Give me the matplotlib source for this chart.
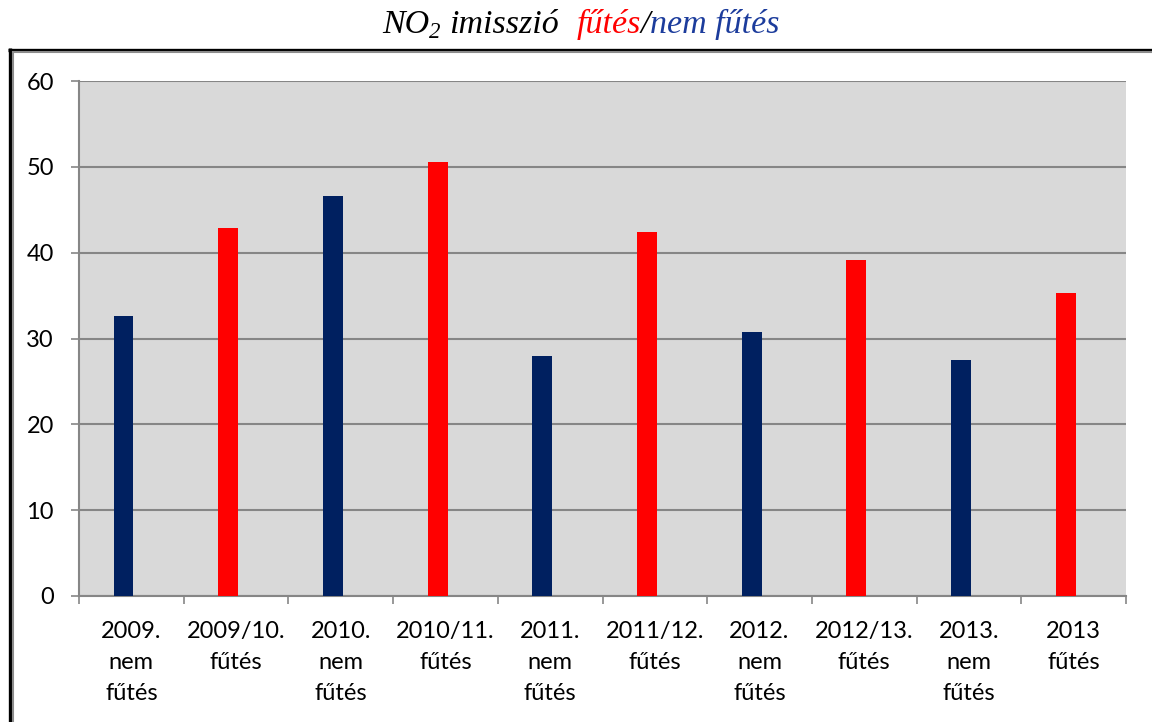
# NO2 emission, heating vs non-heating seasons

import matplotlib.pyplot as plt
from matplotlib.lines import Line2D
import numpy as np

labels = ['2009.\nnem\nfűtés', '2009/10.\nfűtés', '2010.\nnem\nfűtés', '2010/11.\nfűtés',
          '2011.\nnem\nfűtés', '2011/12.\nfűtés', '2012.\nnem\nfűtés', '2012/13.\nfűtés',
          '2013.\nnem\nfűtés', '2013\nfűtés']
values = [32.6, 42.9, 46.6, 50.6, 28.0, 42.4, 30.8, 39.1, 27.5, 35.3]
heating = [False, True, False, True, False, True, False, True, False, True]

RED = '#ff0000'
NAVY = '#002060'
TITLE_BLUE = '#1c3c9c'
GRID = '#868686'

W, H = 1152, 722
fig = plt.figure(figsize=(W / 100, H / 100), dpi=100, facecolor='white')
ax = fig.add_axes([79 / W, 1 - 596 / H, (1126 - 79) / W, (596 - 81) / H])
ax.set_facecolor('#d9d9d9')

x = np.arange(len(values))
colors = [RED if h else NAVY for h in heating]
ax.bar(x - 0.075, values, width=0.19, color=colors, zorder=3)

ax.set_xlim(-0.5, len(values) - 0.5)
ax.set_ylim(0, 60)
ax.set_yticks(range(0, 61, 10))
ax.yaxis.grid(True, color=GRID, linewidth=1.5, zorder=1)
ax.set_axisbelow(True)

for side in ['top', 'right']:
    ax.spines[side].set_visible(False)
for side in ['left', 'bottom']:
    ax.spines[side].set_color(GRID)
    ax.spines[side].set_linewidth(1.5)

tick_font = dict(family='Lato', size=17)
ax.set_xticks(x)
ax.set_xticklabels(labels, fontdict=tick_font, linespacing=1.6)
ax.set_xticks(np.arange(-0.5, len(values)), minor=True)
ax.tick_params(axis='x', which='major', length=0, pad=18)
ax.tick_params(axis='x', which='minor', length=6, width=1.2, color=GRID)
ax.tick_params(axis='y', length=6, width=1.2, color=GRID, pad=12)
for t in ax.get_yticklabels():
    t.set_fontfamily('Lato')
    t.set_fontsize(17)

# chart frame: black border with a grey inner edge
def px_line(xs, ys, color, lw):
    fig.add_artist(Line2D([v / W for v in xs], [1 - v / H for v in ys],
                          color=color, linewidth=lw, transform=fig.transFigure,
                          solid_capstyle='butt'))

px_line([8, W], [49.5, 49.5], 'black', 2.4)
px_line([9.5, 9.5], [48, H], 'black', 2.4)
px_line([12, W], [52, 52], '#8c8c8c', 1.5)
px_line([12.5, 12.5], [51, H], '#8c8c8c', 1.5)

# title assembled from coloured pieces
title_parts = [
    ('NO', 'black', 24.5, 0),
    ('2', 'black', 16.5, -5),
    ('imisszió', 'black', 24.5, 0),
    ('fűtés', RED, 24.5, 0),
    ('/', 'black', 24.5, 0),
    ('nem fűtés', TITLE_BLUE, 24.5, 0),
]
gaps = [0, 0, 8, 18, 0, 0]
fig.canvas.draw()
renderer = fig.canvas.get_renderer()
cur = 382
base = 33
for (s, c, size, dy), gap in zip(title_parts, gaps):
    cur += gap
    t = fig.text(cur / W, 1 - (base - dy) / H, s, color=c, fontsize=size,
                 family='Liberation Serif', style='italic', va='baseline', ha='left')
    bb = t.get_window_extent(renderer)
    cur += bb.width

fig.savefig('out.png', dpi=100)
